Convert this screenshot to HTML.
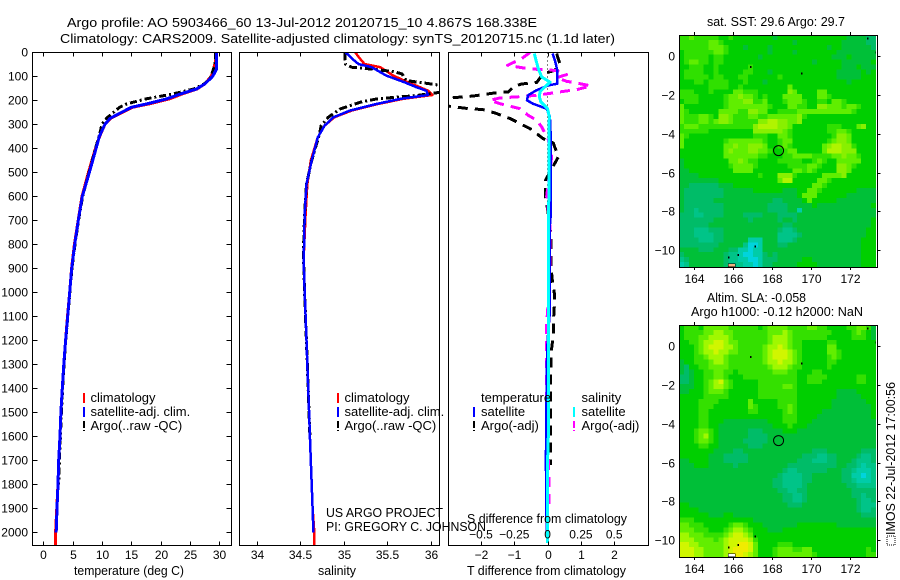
<!DOCTYPE html>
<html lang="en">
<head>
<meta charset="utf-8">
<title>Argo profile AO 5903466_60</title>
<style>
html,body{margin:0;padding:0;background:#fff;}
svg{display:block;font-family:"Liberation Sans",sans-serif;fill:#000;}
text{font-size:13px;fill:#000;stroke:none;}
text.tick{font-size:12px;}
</style>
</head>
<body>
<svg id="chart" xmlns="http://www.w3.org/2000/svg" width="900" height="580" viewBox="0 0 900 580">
<defs>
<clipPath id="clip-temp"><rect x="32" y="52" width="199" height="493"/></clipPath>
<clipPath id="clip-sal"><rect x="239" y="52" width="200" height="493"/></clipPath>
<clipPath id="clip-diff"><rect x="448" y="52" width="200" height="493"/></clipPath>
</defs>
<text x="67" y="27" textLength="470" lengthAdjust="spacingAndGlyphs">Argo profile: AO 5903466_60 13-Jul-2012 20120715_10 4.867S 168.338E</text>
<text x="60" y="43" textLength="555" lengthAdjust="spacingAndGlyphs">Climatology: CARS2009. Satellite-adjusted climatology: synTS_20120715.nc (1.1d later)</text>
<g id="maps"></g>
<g id="plots"></g>
<text x="74" y="575" textLength="110" lengthAdjust="spacingAndGlyphs">temperature (deg C)</text>
<text x="318" y="575" textLength="38" lengthAdjust="spacingAndGlyphs">salinity</text>
<text x="467" y="575" textLength="159" lengthAdjust="spacingAndGlyphs">T difference from climatology</text>
<text x="467" y="523" textLength="160" lengthAdjust="spacingAndGlyphs">S difference from climatology</text>
<text x="326" y="517" textLength="117" lengthAdjust="spacingAndGlyphs">US ARGO PROJECT</text>
<text x="326" y="531" textLength="160" lengthAdjust="spacingAndGlyphs">PI: GREGORY C. JOHNSON</text>
<text x="707" y="26" textLength="138" lengthAdjust="spacingAndGlyphs">sat. SST: 29.6 Argo: 29.7</text>
<text x="707" y="302" textLength="99" lengthAdjust="spacingAndGlyphs">Altim. SLA: -0.058</text>
<text x="691" y="316" textLength="172" lengthAdjust="spacingAndGlyphs">Argo h1000: -0.12 h2000: NaN</text>
<rect x="887" y="536" width="8" height="9" fill="none" stroke="#000" stroke-width="1" stroke-dasharray="1 1"/>
<text transform="translate(895,535) rotate(-90)" x="0" y="0" textLength="153" lengthAdjust="spacingAndGlyphs">IMOS 22-Jul-2012 17:00:56</text>
</svg>
<script>
/* ---------- Profile data ---------- */
const depthTicks=[0,100,200,300,400,500,600,700,800,900,1000,1100,1200,1300,1400,1500,1600,1700,1800,1900,2000];
const tempTicks=[0,5,10,15,20,25,30];
const salTicks=[34,34.5,35,35.5,36];
const diffTTicks=[-2,-1,0,1,2];
const diffSTicks=[-0.5,-0.25,0,0.25,0.5];

const tempDepths=[0,30,60,70,90,104,120,132,153,174,194,215,229,257,275,300,350,400,500,600,700,800,900,1000,1100,1200,1300,1400,1500,1600,1700,1800,1900,2000,2055];
const tempClim=[29.5,29.4,29.1,29,28.8,28.5,27.9,27.5,26.2,23.6,21.5,18,15.2,12.9,11.5,10.5,9.6,8.9,7.7,6.6,5.95,5.3,4.82,4.5,4.12,3.8,3.5,3.24,3,2.85,2.62,2.5,2.3,2.1,2.1];
const tempSat=[29.5,29.5,29.5,29.5,29.1,28.7,28,27.5,26.1,23.3,21,17.6,15,12.8,11.4,10.5,9.55,9,7.85,6.65,5.97,5.35,4.84,4.5,4.15,3.8,3.5,3.24,3,2.85,2.62,2.5,2.33,2.2,null];
const tempArgo=[29.3,29.3,29.2,29,28.7,28.5,28,27.4,25.6,22,17.5,14.2,13,11.6,10.8,10,9.5,8.9,7.8,6.7,6,5.4,4.88,4.52,4.17,3.82,3.52,3.28,3.08,2.92,2.75,2.6,null,null,null];

const salClimDepths=[0,28,49,62,97,125,146,160,178,194,215,243,271,305,354,451,549,674,835,900,1000,1100,1200,1300,1400,1500,1600,1700,1800,1900,2000,2055];
const salClim=[35.13,35.19,35.24,35.42,35.57,35.74,35.88,35.97,36.02,35.68,35.4,35.09,34.89,34.78,34.7,34.62,34.58,34.56,34.54,34.54,34.55,34.56,34.57,34.58,34.59,34.6,34.61,34.62,34.63,34.64,34.66,34.66];
const salSatDepths=[0,28,49,62,97,125,146,160,178,194,215,243,271,305,354,451,549,674,835,900,1000,1100,1200,1300,1400,1500,1600,1700,1800,1900,2000];
const salSat=[35.02,35.1,35.17,35.32,35.49,35.7,35.84,35.95,35.97,35.65,35.38,35.07,34.88,34.78,34.7,34.63,34.57,34.55,34.54,34.54,34.55,34.56,34.57,34.58,34.59,34.6,34.61,34.62,34.63,34.64,34.65];
const salArgoDepths=[0,49,62,69,80,90,118,129,137,150,167,180,194,208,236,271,305,340,451,549,674,835,1000,1300,1600];
const salArgo=[35.01,35.02,35.09,35.3,35.57,35.67,35.72,35.95,36.1,36.3,36.1,35.84,35.38,35.19,34.96,34.82,34.74,34.72,34.63,34.57,34.548,34.535,34.548,34.58,34.61];

const diffSatTDepths=[5,33,75,117,131,138,158,179,200,214,235,269,367,505,670,740,1100,1200,1300,1700,1995];
const diffSatT=[0.15,0.22,0.29,0.29,0.29,0.02,-0.33,-0.59,-0.62,-0.44,-0.03,0.07,0.1,0.1,0.1,0.057,0.057,0,-0.02,-0.05,-0.03];
const diffArgoTDepths=[5,47,75,89,126,132,142,165,169,182,189,204,224,233,239,253,276,318,360,378,436,477,532,602,700,768,891,948,1003,1059,1128,1178,1260,1400,1720];
const diffArgoT=[0.27,0.37,0.22,-0.13,-0.33,-0.78,-1.01,-1.18,-1.58,-2.23,-2.83,-3.63,-2.98,-2.48,-1.93,-1.58,-1.13,-0.53,-0.13,0.17,0.32,0.16,-0.06,-0.06,0.05,0.1,0.1,0.14,0.2,0.2,0.17,0.17,0.1,0.09,0.09];
const diffSatSDepths=[5,33,68,103,124,144,165,186,207,235,269,367,505,1000,1600,1700,2045];
const diffSatS=[-0.1,-0.087,-0.07,-0.044,0.018,-0.02,-0.057,-0.062,-0.05,0,0.013,0.01,0.01,0.005,0.005,0,0];
const diffArgoSDepths=[1,26,54,65,71,76,93,106,121,131,140,154,165,179,186,190,200,214,235,262,283,311,346,365,436,600,726,891,1003,1128,1500,1775,1890];
const diffArgoS=[-0.132,-0.194,-0.3,-0.185,-0.082,0.068,0.143,0.068,0.143,0.243,0.324,0.228,0.093,-0.082,-0.232,-0.357,-0.432,-0.357,-0.207,-0.147,-0.082,-0.044,-0.012,0.005,0.03,-0.007,0.018,0.018,0.01,-0.007,-0.007,0.01,0.01];

/* ---------- Map data: colour level per cell ---------- */
const mapLonTicks=[164,166,168,170,172];
const mapLatTicks=[0,-2,-4,-6,-8,-10];
const profileLon=168.338;
const profileLat=-4.867;
const coastLons=[172.93,173.36,166.9,169.53,165.75,166.26,167.12];
const coastLats=[0.93,0.2,-0.54,-0.88,-10.38,-10.26,-9.83];
const sstColors=["#00d4dc","#00cca8","#00c488","#00bc68","#00c038","#00cf00","#30e000","#60ee00","#88f000","#b0f400","#d0f000"];
const slaColors=["#00d4dc","#00cca8","#00c488","#00bc68","#00bf38","#00cf00","#34e000","#62ee00","#a0f800","#d0f600","#f0ec00"];

const sstLevels=[
[6,6,7,6,6,6,6,6,5,5,6,5,5,5,5,5,5,5,5,4,5,5,5,5,5,5,5,5,5,5,5,5,5,5,4,4,4,4,3,3],
[6,6,6,6,6,6,7,7,6,5,5,5,5,5,5,5,5,5,5,5,5,5,5,4,5,5,5,5,5,5,5,5,5,4,4,4,4,4,3,3],
[6,6,6,6,6,6,7,7,7,6,5,5,5,4,5,5,5,5,4,5,5,5,5,5,5,5,5,5,5,5,4,5,5,4,4,4,4,4,4,3],
[5,6,6,6,6,6,6,7,7,6,5,5,5,5,5,5,5,5,4,5,5,5,5,4,5,5,5,5,5,5,5,5,4,4,4,4,4,4,4,4],
[5,6,6,6,6,6,5,6,6,5,5,5,5,5,5,5,4,5,5,5,5,5,5,5,5,5,5,5,5,5,5,4,4,4,5,4,4,4,4,4],
[5,6,7,7,6,6,5,6,6,5,5,5,5,5,5,5,5,5,5,5,5,5,5,5,5,5,5,4,5,5,5,5,5,4,4,4,4,4,4,5],
[5,5,6,6,6,5,5,6,5,5,5,5,5,5,6,5,5,5,5,5,5,5,5,5,5,5,5,5,5,5,5,5,5,4,4,4,5,4,4,4],
[5,6,6,6,6,5,5,6,5,5,5,5,5,6,6,5,5,5,4,5,5,5,5,5,5,5,5,5,5,5,5,5,4,4,4,4,4,5,4,5],
[5,6,6,6,6,6,5,6,6,5,5,5,6,6,5,5,5,5,5,5,6,5,5,5,5,5,5,5,5,5,5,5,4,4,4,4,4,5,5,5],
[5,5,5,6,6,5,6,6,6,6,5,5,5,6,5,5,5,4,5,5,5,5,5,5,5,5,5,5,5,5,5,5,5,5,4,5,5,5,5,5],
[5,5,5,5,5,5,6,6,6,6,5,5,6,5,5,5,5,5,5,5,5,5,7,5,5,5,5,5,5,5,5,5,5,5,5,5,5,5,5,5],
[6,6,6,5,5,5,6,5,5,5,5,7,7,6,6,6,5,5,5,5,5,5,8,7,5,5,5,5,7,7,5,5,5,5,5,5,5,5,5,5],
[6,6,6,6,5,5,5,5,5,6,7,7,8,7,7,6,5,6,5,5,5,7,7,7,7,5,5,5,7,7,6,5,5,5,5,5,5,5,5,5],
[5,6,6,6,5,5,5,5,5,6,7,7,7,8,8,6,6,7,5,5,5,6,7,7,7,6,5,5,6,6,5,7,7,6,5,5,5,5,5,5],
[7,5,5,5,5,5,5,5,5,6,7,7,7,7,7,7,7,7,6,5,5,5,7,7,6,6,5,5,8,8,7,7,7,6,7,7,6,5,5,5],
[7,6,5,5,5,5,5,5,7,7,7,7,6,6,8,8,7,7,5,5,6,6,6,6,7,7,7,7,7,7,7,7,7,7,7,6,5,5,5,5],
[7,6,6,6,7,7,6,5,8,8,7,6,6,6,7,7,6,6,7,7,7,7,7,7,8,6,5,5,5,5,5,5,5,5,5,5,5,5,5,5],
[7,6,6,6,7,7,6,7,8,8,7,6,6,6,6,6,8,8,9,9,8,8,7,7,8,5,5,5,5,5,5,5,5,5,5,5,5,5,5,5],
[6,7,7,7,6,6,6,6,6,6,6,6,6,6,6,8,9,9,9,9,8,8,7,5,5,5,5,5,5,5,6,6,6,5,5,5,7,8,5,5],
[6,6,6,6,6,6,5,5,5,5,5,5,5,5,5,8,8,8,8,8,8,7,6,5,5,5,5,5,5,5,6,6,7,7,6,5,5,5,5,5],
[7,6,5,5,5,5,5,5,5,5,5,5,5,5,5,6,6,6,5,5,7,7,6,5,5,5,5,5,5,5,5,6,8,8,7,5,5,5,5,5],
[7,5,5,5,5,5,5,5,5,6,7,7,7,7,7,7,7,6,5,5,6,7,7,5,5,5,5,5,5,5,6,7,8,8,7,5,5,5,5,5],
[7,5,5,5,5,5,5,5,5,7,7,8,7,7,8,8,8,7,5,5,6,7,6,5,5,5,5,5,5,7,8,9,9,8,8,6,5,5,5,5],
[5,5,5,5,5,5,5,5,5,7,8,7,7,7,8,8,7,7,6,5,5,6,7,7,5,5,5,5,5,7,9,9,9,8,8,8,5,5,5,5],
[5,5,5,5,5,5,5,5,5,7,7,7,7,7,7,7,6,6,5,5,5,6,6,7,7,7,7,6,6,6,6,7,7,8,7,7,6,5,5,5],
[4,5,5,5,5,5,5,5,5,5,7,7,8,7,6,6,5,5,5,5,6,6,6,6,6,5,5,6,7,6,5,5,7,7,7,7,7,5,5,5],
[4,5,5,5,5,5,5,5,5,5,6,7,7,7,7,6,5,5,5,5,5,5,6,6,6,6,7,7,6,5,5,5,8,8,7,6,5,5,5,5],
[4,4,5,5,5,5,5,5,5,5,5,7,7,7,7,5,5,5,5,5,5,5,5,7,7,6,7,6,5,5,5,5,8,8,7,5,5,5,5,5],
[4,4,4,4,5,5,5,5,5,5,5,5,5,5,5,5,6,5,5,5,8,8,8,6,5,5,5,5,5,7,7,7,7,8,5,5,5,5,5,5],
[4,4,4,4,4,4,4,4,5,5,5,5,5,5,5,5,5,5,5,5,7,9,9,5,5,5,5,5,7,7,6,5,5,5,5,5,5,5,5,5],
[4,4,3,3,3,3,3,3,4,4,4,5,5,5,5,5,5,5,5,5,5,5,5,5,5,5,5,7,7,6,5,5,5,5,5,5,5,5,5,5],
[4,3,3,3,3,3,3,3,3,4,4,4,4,4,4,5,5,5,5,5,5,4,4,4,5,5,7,7,6,5,5,5,5,5,5,5,4,4,4,4],
[4,3,3,3,3,3,3,3,3,4,4,4,4,4,4,4,4,4,4,4,4,4,4,4,5,7,7,7,5,5,5,5,5,5,4,4,4,4,4,4],
[4,3,3,3,3,3,3,4,4,4,4,4,4,4,4,4,4,4,4,3,3,4,4,4,4,5,7,5,5,5,5,5,4,4,4,4,4,4,4,4],
[4,3,3,3,3,3,3,3,3,4,4,4,4,4,4,4,4,4,3,3,3,3,4,4,4,4,4,5,4,4,4,4,4,4,4,4,4,4,4,5],
[4,3,3,2,3,3,3,3,3,4,4,4,4,4,4,4,4,4,3,3,3,3,4,4,1,4,4,4,4,4,4,4,4,4,4,4,4,4,4,4],
[3,3,3,2,2,3,3,3,3,4,4,4,4,3,3,3,3,4,4,4,3,3,3,3,4,4,4,4,4,4,4,4,4,4,4,4,4,4,4,4],
[3,3,3,3,3,3,3,4,4,4,4,4,4,4,3,4,4,4,4,4,3,4,4,3,4,4,4,4,4,4,4,4,4,4,4,4,4,4,4,5],
[3,3,3,3,3,3,4,4,4,4,4,4,4,4,4,4,4,4,4,4,4,3,3,4,4,4,4,4,4,4,4,4,4,4,4,4,4,4,4,5],
[3,3,3,2,2,2,3,3,3,4,4,4,4,4,4,4,4,4,4,4,3,2,2,3,4,4,4,4,4,4,4,4,4,4,4,4,4,4,5,5],
[3,3,3,2,2,2,2,3,3,4,4,4,4,4,4,4,4,4,4,4,2,2,2,2,3,4,4,4,4,4,4,4,4,4,4,4,4,4,5,5],
[3,3,3,3,2,2,2,3,3,4,4,4,4,4,1,1,1,4,4,4,2,2,2,3,4,4,4,4,4,4,4,4,4,4,4,4,4,5,5,5],
[3,3,3,3,3,3,3,3,4,4,4,4,4,2,0,0,1,4,4,4,3,3,4,4,4,4,4,4,4,4,4,4,4,4,4,4,4,5,5,5],
[4,4,4,4,3,3,3,4,4,4,3,3,1,1,0,1,1,4,4,4,4,4,4,4,4,4,4,4,4,4,4,4,4,4,4,4,4,5,5,5],
[3,4,4,4,4,4,4,4,4,3,2,2,1,0,0,1,1,3,4,3,4,4,4,4,4,4,4,4,4,4,4,4,4,4,4,4,4,5,5,5],
[2,3,4,4,4,4,4,4,4,3,2,2,1,1,0,0,1,3,3,3,4,4,4,4,4,5,5,4,4,4,4,4,4,4,4,4,4,5,5,5],
[1,2,4,4,4,4,4,4,4,3,2,2,2,1,1,0,1,3,3,4,4,4,4,4,5,5,5,5,4,4,4,4,4,4,4,4,4,5,5,5]
];

const slaLevels=[
[5,6,6,6,5,7,7,7,7,7,6,6,6,6,6,6,5,6,7,7,7,7,6,6,6,6,7,7,6,6,5,5,5,5,6,6,7,7,6,4],
[5,6,6,6,6,7,7,8,8,7,7,6,6,6,6,6,6,6,7,7,7,8,7,6,6,6,6,6,6,6,6,5,5,5,5,6,7,6,5,4],
[5,6,6,6,7,7,8,8,8,8,7,6,6,6,6,6,6,6,7,8,8,8,7,6,6,6,6,6,6,6,5,5,5,5,5,6,6,6,5,4],
[5,5,6,6,7,8,8,9,9,8,7,7,6,6,6,6,6,6,7,8,8,8,7,6,6,5,5,5,5,5,6,6,5,5,5,5,5,5,5,5],
[5,5,5,6,7,8,9,9,9,8,8,7,6,6,6,6,6,7,8,8,9,8,7,6,6,5,5,5,5,5,7,7,5,5,5,5,5,5,5,5],
[5,5,5,6,7,8,8,9,8,8,7,7,6,6,6,6,6,7,8,9,9,9,8,7,6,5,5,5,5,5,7,7,6,5,5,5,5,5,5,5],
[5,5,5,6,6,7,8,8,8,7,6,6,6,6,6,6,6,7,8,9,9,9,8,7,6,5,5,5,5,5,6,7,6,5,5,5,5,5,5,5],
[4,5,5,6,6,6,7,8,8,7,6,6,6,6,6,6,6,7,8,8,9,8,8,7,6,5,5,5,5,5,6,6,5,5,5,5,5,5,5,5],
[4,3,5,5,6,6,7,7,7,7,6,6,6,6,6,6,6,6,7,8,8,8,7,6,6,5,5,5,5,5,6,5,5,5,5,5,5,5,5,5],
[4,3,4,5,5,6,6,7,7,6,6,5,6,6,6,6,6,6,6,7,7,7,6,6,5,5,5,6,6,5,5,5,5,5,5,5,5,5,5,5],
[3,3,4,5,5,6,6,7,7,6,5,5,5,6,6,6,6,6,6,6,6,6,6,6,5,5,6,6,6,6,5,5,5,5,5,5,6,6,5,5],
[3,3,4,5,5,6,7,8,9,7,6,5,5,5,5,5,6,6,6,6,6,6,6,6,5,5,6,6,6,5,5,5,5,5,5,5,6,6,5,5],
[4,4,4,5,5,6,7,8,8,7,6,5,5,5,5,5,6,6,6,6,6,7,7,6,5,5,5,5,5,5,5,5,5,5,5,5,5,5,5,5],
[4,4,5,5,5,6,7,7,7,6,5,5,5,5,5,5,6,6,6,6,6,6,6,6,5,5,5,5,5,5,5,5,4,4,4,4,5,5,5,5],
[5,5,5,5,5,6,6,6,6,6,5,5,5,5,5,5,6,6,6,6,6,6,6,6,5,5,5,5,5,5,5,5,4,4,4,4,4,5,5,5],
[5,5,5,5,6,6,6,6,5,5,5,5,5,5,7,5,5,5,5,5,6,6,6,6,5,5,5,5,5,5,5,4,4,4,4,4,4,4,5,5],
[5,5,5,5,6,6,6,5,5,5,5,5,5,5,7,6,5,5,5,5,6,6,7,6,5,5,5,5,5,5,5,4,4,4,4,4,4,4,4,5],
[5,5,5,5,6,6,5,5,5,5,5,5,5,5,6,6,5,5,5,5,5,6,7,6,5,5,5,5,5,4,4,4,4,4,4,4,4,4,4,5],
[5,5,5,5,6,6,5,5,5,5,5,5,5,5,5,5,5,5,5,5,5,6,6,6,5,5,5,5,4,4,4,4,4,4,4,4,4,4,4,5],
[5,5,5,5,6,6,5,5,5,4,4,4,4,4,4,4,4,4,5,5,5,6,6,6,5,5,5,4,4,4,4,4,4,4,4,4,4,4,4,4],
[5,5,5,5,6,6,5,5,4,4,4,4,4,4,4,4,4,4,4,5,5,5,6,5,5,5,4,4,4,4,4,4,4,4,4,4,4,4,4,4],
[5,5,5,6,7,7,6,5,4,4,4,4,4,4,3,3,3,4,4,4,4,5,5,5,4,4,4,4,4,4,4,4,4,4,4,4,4,4,4,4],
[5,5,5,6,7,8,6,5,4,4,4,4,4,4,3,3,3,3,4,4,4,4,4,4,4,4,4,4,4,4,4,4,4,4,4,4,4,4,4,4],
[5,5,5,6,7,7,6,5,4,4,4,4,4,3,3,3,3,3,4,4,4,4,4,4,4,4,4,4,4,4,4,4,4,4,4,4,4,4,4,4],
[5,5,5,5,6,6,5,5,4,4,4,4,4,4,3,3,3,4,4,4,4,4,4,4,4,4,4,4,4,4,4,4,4,4,4,4,4,4,4,4],
[5,5,5,5,5,5,5,4,4,4,4,3,3,4,4,4,4,4,4,4,4,4,4,4,4,4,4,3,3,3,4,4,4,4,4,4,4,3,3,3],
[5,5,5,5,5,5,4,4,4,3,3,3,3,3,4,4,4,4,4,4,4,4,4,4,4,3,3,3,2,2,3,3,4,4,4,4,3,2,2,3],
[4,4,5,5,5,5,4,4,4,3,3,3,3,3,4,4,4,4,4,4,4,4,4,4,3,3,3,2,2,2,3,3,4,4,4,3,2,2,2,3],
[4,4,4,5,5,5,4,4,4,4,4,3,4,4,4,4,4,4,4,4,4,4,3,3,3,3,3,3,3,3,3,3,4,4,3,3,2,1,2,2],
[4,4,4,4,4,4,4,4,4,4,4,4,4,4,4,4,4,4,4,4,4,3,2,2,3,3,3,3,3,3,4,4,4,3,3,2,1,1,1,2],
[4,4,4,4,4,4,4,4,4,4,4,4,4,4,4,4,4,4,4,4,3,2,2,2,2,3,3,4,4,4,4,4,4,3,3,1,1,0,1,2],
[4,4,4,4,4,4,4,4,4,4,4,4,4,4,4,4,4,4,4,3,3,2,2,2,2,3,3,4,4,4,4,4,4,3,3,2,1,1,1,2],
[4,4,4,4,4,4,4,4,4,4,4,4,4,4,4,4,4,4,4,3,3,2,2,2,2,3,4,4,4,4,4,4,4,4,3,3,2,2,2,2],
[4,4,4,4,4,4,4,4,4,4,4,4,4,4,4,4,4,4,4,4,3,3,2,2,3,3,4,4,4,4,4,4,4,4,4,3,3,3,3,3],
[4,4,4,4,4,4,4,4,4,4,4,4,4,4,4,4,4,4,4,4,4,3,3,2,2,3,4,4,4,4,4,4,4,4,4,3,3,2,3,3],
[4,4,4,4,4,4,4,4,4,4,4,4,4,4,4,4,4,4,4,4,4,3,3,2,2,3,4,4,4,4,4,4,4,4,4,4,3,2,2,3],
[5,5,4,4,4,4,4,4,4,4,4,4,4,4,4,4,4,4,4,4,4,4,3,3,3,4,4,4,4,4,4,4,4,4,4,4,3,2,2,2],
[5,5,5,5,4,4,4,4,4,4,4,4,4,4,4,4,4,4,4,4,4,4,4,4,4,4,4,4,4,4,4,4,4,4,4,4,3,2,2,3],
[5,5,5,5,5,5,4,4,4,5,5,4,4,4,4,4,4,4,4,4,4,4,4,4,4,4,4,4,4,4,4,4,4,4,4,4,4,3,3,3],
[6,6,6,5,5,5,5,5,5,5,5,5,5,5,5,4,4,4,4,4,4,4,4,4,4,4,4,4,4,4,4,4,4,4,4,4,4,4,4,4],
[7,7,6,6,6,5,5,5,5,5,6,7,7,6,5,5,5,4,4,4,4,4,4,4,5,5,5,5,5,5,5,5,4,4,4,4,4,4,4,4],
[7,7,7,6,6,6,5,5,5,6,7,8,8,7,6,5,5,5,4,4,4,5,5,5,5,5,5,5,5,5,5,5,5,5,5,5,5,5,5,5],
[8,8,7,7,7,6,6,6,6,7,8,9,9,8,7,5,5,5,5,5,5,5,5,5,5,5,5,5,5,5,5,5,5,5,5,5,5,5,5,5],
[8,8,8,7,7,7,7,6,7,8,9,9,9,9,8,6,5,5,5,5,5,5,5,5,5,5,5,5,5,5,5,5,5,5,5,5,5,5,5,5],
[9,9,8,8,7,7,7,7,7,8,9,9,10,10,9,7,5,5,5,5,6,6,6,5,5,5,5,5,5,5,5,5,5,5,5,5,5,5,5,5],
[9,9,9,8,8,7,7,7,7,8,9,10,10,10,9,7,5,5,5,6,7,7,7,6,6,7,7,5,5,5,5,5,5,5,5,5,5,5,6,5],
[9,9,9,8,8,7,7,7,7,8,9,10,10,9,8,7,5,5,5,6,7,7,7,7,7,7,7,6,5,5,5,5,5,5,5,5,5,5,6,6]
];

/* ---------- Axis functions ---------- */
const yDepth=d=>52.3+d*0.24;
const xTemp=t=>43.3+t*5.87;
const xSal=s=>257+(s-34)*86.8;
const xDiffT=v=>547.6+v*33.3;
const xDiffS=v=>547.6+v*133.2;
const mapX=lon=>772+(lon-168)*19.4;
const mapYSst=lat=>56.3-lat*19.37;
const mapYSla=lat=>346.3-lat*19.37;
const fmtNeg=v=>String(v).replace('-','\u2212');

const NS='http://www.w3.org/2000/svg';
function shape(tag,attrs,parent){
  const el=document.createElementNS(NS,tag);
  for(const k in attrs){el.setAttribute(k,attrs[k]);}
  parent.appendChild(el);
  return el;
}
const plots=document.getElementById('plots');
const maps=document.getElementById('maps');

function frame(name,x0,x1,y0,y1,parent){
  const el=shape('rect',{x:x0,y:y0,width:x1-x0,height:y1-y0,fill:'none',stroke:'#000','stroke-width':1,'shape-rendering':'crispEdges'},parent);
  
  
}
function tickMark(x1,y1,x2,y2,parent){
  const el=shape('line',{x1:x1,y1:y1,x2:x2,y2:y2,stroke:'#000','stroke-width':1,'shape-rendering':'crispEdges'},parent);
  
  
}
function tickLabel(str,x,y,anchor,parent){
  const el=shape('text',{x:x,y:y,'text-anchor':anchor,class:'tick'},parent);
  el.textContent=str;
  
  
}
function series(name,depths,values,xf,color,width,dash,clip){
  const pts=[];
  depths.forEach((d,i)=>{
    if(values[i]!==null&&values[i]!==undefined){pts.push(xf(values[i]).toFixed(1)+','+yDepth(d).toFixed(1));}
  });
  const attrs={points:pts.join(' '),fill:'none',stroke:color,'stroke-width':width,'stroke-linejoin':'round','clip-path':'url(#'+clip+')','shape-rendering':'crispEdges'};
  if(dash){attrs['stroke-dasharray']=dash;}
  const el=shape('polyline',attrs,plots);
  
  
}
function legendRow(name,sx,tx,base,color,dash,label){
  const l=shape('line',{x1:sx,y1:base-9,x2:sx,y2:base+1,stroke:color,'stroke-width':2,'shape-rendering':'crispEdges'},plots);
  if(dash){l.setAttribute('stroke-dasharray',dash);}
  
  
  const t=shape('text',{x:tx,y:base},plots);
  t.textContent=label;
  
  
}

/* ---------- Profile panels ---------- */
const top0=52.5,bot0=545.5;
const pT=[32.5,231.5],pS=[239.5,439.5],pD=[448.5,648.5];

const zeroLine=shape('line',{x1:xDiffT(0),y1:top0,x2:xDiffT(0),y2:yDepth(950),stroke:'#000','stroke-width':1,'stroke-dasharray':'1 3','shape-rendering':'crispEdges'},plots);



series('temperature-climatology-line',tempDepths,tempClim,xTemp,'#f00',3,null,'clip-temp');
series('temperature-argo-line',tempDepths,tempArgo,xTemp,'#000',3,'7 3 2 3','clip-temp');
series('temperature-satellite-line',tempDepths,tempSat,xTemp,'#00f',3,null,'clip-temp');

series('salinity-climatology-line',salClimDepths,salClim,xSal,'#f00',2.5,null,'clip-sal');
series('salinity-argo-line',salArgoDepths,salArgo,xSal,'#000',3,'8 3 2 3','clip-sal');
series('salinity-satellite-line',salSatDepths,salSat,xSal,'#00f',2.5,null,'clip-sal');

series('t-diff-argo-line',diffArgoTDepths,diffArgoT,xDiffT,'#000',3,'10 7','clip-diff');
series('s-diff-argo-line',diffArgoSDepths,diffArgoS,xDiffS,'#f0f',3,'10 7','clip-diff');
series('t-diff-satellite-line',diffSatTDepths,diffSatT,xDiffT,'#00f',2.5,null,'clip-diff');
series('s-diff-satellite-line',diffSatSDepths,diffSatS,xDiffS,'#0ff',3,null,'clip-diff');

frame('temperature-panel-frame',pT[0],pT[1],top0,bot0,plots);
frame('salinity-panel-frame',pS[0],pS[1],top0,bot0,plots);
frame('difference-panel-frame',pD[0],pD[1],top0,bot0,plots);

depthTicks.forEach(d=>{
  const y=Math.round(yDepth(d))+0.5;
  tickMark(pT[0],y,pT[0]+5,y,plots);
  tickMark(pT[1]-5,y,pT[1],y,plots);
  tickLabel(String(d),28,y+4,'end',plots);
});
tempTicks.forEach(v=>{
  const x=Math.round(xTemp(v))+0.5;
  tickMark(x,top0,x,top0+4,plots);
  tickMark(x,bot0-4,x,bot0,plots);
  tickLabel(fmtNeg(v),x,559,'middle',plots);
});
salTicks.forEach(v=>{
  const x=Math.round(xSal(v))+0.5;
  tickMark(x,top0,x,top0+4,plots);
  tickMark(x,bot0-4,x,bot0,plots);
  tickLabel(String(v),x,559,'middle',plots);
});
diffTTicks.forEach(v=>{
  const x=Math.round(xDiffT(v))+0.5;
  tickMark(x,top0,x,top0+4,plots);
  tickMark(x,bot0-4,x,bot0,plots);
  tickLabel(fmtNeg(v),x,559,'middle',plots);
});
diffSTicks.forEach(v=>{
  tickLabel(fmtNeg(v),xDiffS(v),538.5,'middle',plots);
});

legendRow('temp-legend-climatology',84,90.5,402,'#f00',null,'climatology');
legendRow('temp-legend-satellite',84,90.5,416,'#00f',null,'satellite-adj. clim.');
legendRow('temp-legend-argo',84,90.5,430,'#000','7 2','Argo(..raw -QC)');
legendRow('sal-legend-climatology',338,344.5,402,'#f00',null,'climatology');
legendRow('sal-legend-satellite',338,344.5,416,'#00f',null,'satellite-adj. clim.');
legendRow('sal-legend-argo',338,344.5,430,'#000','7 2','Argo(..raw -QC)');
legendRow('diff-legend-t-satellite',474,481,416,'#00f',null,'satellite');
legendRow('diff-legend-t-argo',474,481,430,'#000','7 2','Argo(-adj)');
legendRow('diff-legend-s-satellite',574,581.5,416,'#0ff',null,'satellite');
legendRow('diff-legend-s-argo',574,581.5,430,'#f0f','7 2','Argo(-adj)');
const legT=shape('text',{x:481,y:402},plots);
legT.textContent='temperature';


const legS=shape('text',{x:581.5,y:402},plots);
legS.textContent='salinity';



/* ---------- Maps ---------- */
const mapLeft=679,mapRight=876,cellW=197/40,cellH=232/47;
function drawMap(prefix,levels,colors,yTop,yf,labelY,patchColor){
  levels.forEach((row,r)=>{
    row.forEach((lvl,c)=>{
      const cell=shape('rect',{x:(mapLeft+c*cellW).toFixed(2),y:(yTop+r*cellH).toFixed(2),width:(cellW+0.4).toFixed(2),height:(cellH+0.4).toFixed(2),fill:colors[lvl],'shape-rendering':'crispEdges'},maps);
      
      
    });
  });
  coastLons.forEach((lon,i)=>{
    const mark=shape('rect',{x:mapX(lon)-0.5,y:yf(coastLats[i])-1,width:1.5,height:2,fill:'#000','shape-rendering':'crispEdges'},maps);
    
    
  });
  const patch=shape('rect',{x:mapX(165.9)-3,y:yf(-10.7),width:7,height:3,fill:patchColor,stroke:'#000','stroke-width':0.5,'shape-rendering':'crispEdges'},maps);
  
  
  const strip=shape('rect',{x:mapRight,y:yTop,width:1.5,height:232,fill:'#fff','shape-rendering':'crispEdges'},maps);
  
  
  frame(prefix+'-frame',679.5,877.5,yTop+0.5,yTop+232.5,maps);
  mapLonTicks.forEach(lon=>{
    const x=Math.round(mapX(lon))+0.5;
    tickMark(x,yTop-3,x,yTop,maps);
    tickMark(x,yTop+232,x,yTop+235,maps);
    tickLabel(String(lon),x,labelY,'middle',maps);
  });
  mapLatTicks.forEach(lat=>{
    const y=Math.round(yf(lat))+0.5;
    tickMark(877.5,y,880.5,y,maps);
    tickLabel(fmtNeg(lat),675,y+4,'end',maps);
  });
  const ring=shape('circle',{cx:mapX(profileLon),cy:yf(profileLat),r:5,fill:'none',stroke:'#000','stroke-width':1},maps);
  
  
}
drawMap('sst-map',sstLevels,sstColors,35,mapYSst,283,'#f0b080');
drawMap('sla-map',slaLevels,slaColors,325,mapYSla,573,'#ffffff');
</script>
</body>
</html>
